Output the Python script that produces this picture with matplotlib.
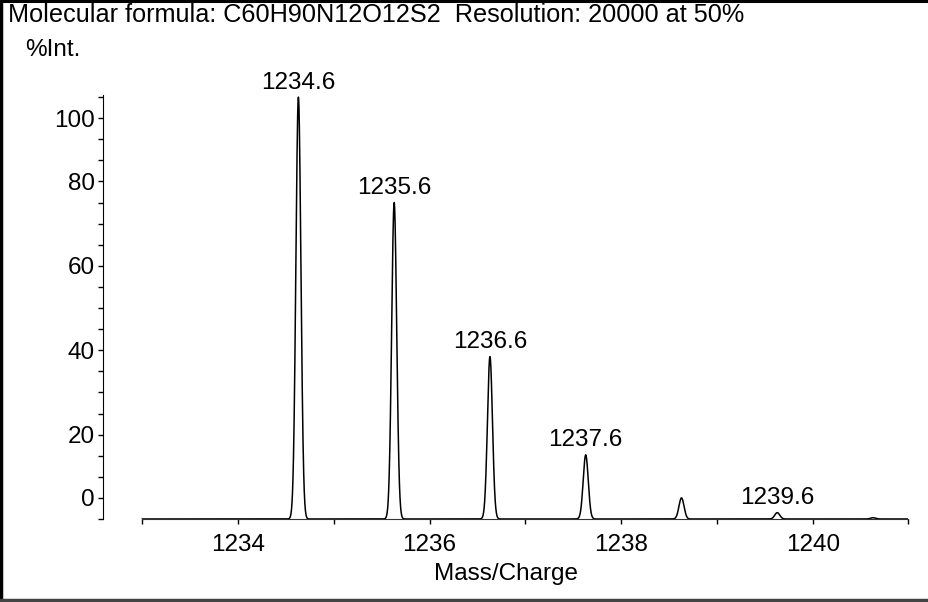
import numpy as np
import matplotlib.pyplot as plt
from matplotlib.lines import Line2D

# isotope peaks (m/z, relative intensity %)
masses = [1234.63, 1235.63, 1236.63, 1237.63, 1238.63, 1239.63, 1240.63]
intensities = [100.0, 75.0, 38.5, 15.2, 5.0, 1.5, 0.3]
peak_labels = ["1234.6", "1235.6", "1236.6", "1237.6", "", "1239.6", ""]
resolution = 20000

x_major = [1234, 1236, 1238, 1240]
x_minor = [1233, 1235, 1237, 1239, 1241]
y_minor = list(range(0, 101, 5))
y_label_pos = [5, 20, 40, 60, 80, 95]
y_labels = ["0", "20", "40", "60", "80", "100"]

title = "Molecular formula: C60H90N12O12S2  Resolution: 20000 at 50%"

plt.rcParams["font.family"] = ["Liberation Sans", "DejaVu Sans"]
fs = 17.5

fig = plt.figure(figsize=(9.29, 6.02), dpi=100)
ax = fig.add_axes([0.1109, 0.1379, 0.867, 0.7043])

# profile spectrum built from the peak list and stated resolution
mz = np.linspace(1233, 1241, 8001)
profile = np.zeros_like(mz)
for m, inten in zip(masses, intensities):
    fwhm = m / resolution
    profile += inten * np.exp(-4 * np.log(2) * (mz - m) ** 2 / fwhm ** 2)
ax.plot(mz, profile, color="black", lw=1.1)

for m, inten, lab in zip(masses, intensities, peak_labels):
    if lab:
        ax.annotate(lab, (m, inten), xytext=(0, 2.5), textcoords="offset points",
                    ha="center", va="bottom", fontsize=fs)

ax.set_xlim(1232.59, 1241)
ax.set_ylim(0, 100.5)
ax.spines["top"].set_visible(False)
ax.spines["right"].set_visible(False)
ax.spines["bottom"].set_bounds(1233, 1241)
ax.spines["bottom"].set_color("#333333")

ax.set_xticks(x_major)
ax.set_xticks(x_minor, minor=True)
ax.set_yticks(y_label_pos)
ax.set_yticklabels(y_labels)
ax.set_yticks(y_minor, minor=True)
ax.tick_params(axis="both", which="both", direction="out", length=3.5, width=1)
ax.tick_params(axis="x", labelsize=fs, pad=7)
ax.tick_params(axis="y", labelsize=fs, pad=2.5)
ax.set_xlabel("Mass/Charge", fontsize=fs, labelpad=5)

fig.text(8 / 929, 1 - 15 / 602, title, fontsize=18.2, va="center", ha="left")
fig.text(25 / 929, 1 - 50 / 602, "%Int.", fontsize=fs, va="center", ha="left")

# frame around the picture (left, top, bottom)
fig.add_artist(Line2D([0.0015, 0.0015], [0, 1], color="black", lw=2.5, transform=fig.transFigure))
fig.add_artist(Line2D([0, 1], [0.998, 0.998], color="black", lw=2.2, transform=fig.transFigure))
fig.add_artist(Line2D([0, 1], [0.003, 0.003], color="#444444", lw=2.5, transform=fig.transFigure))

fig.savefig("out.png", dpi=100)
